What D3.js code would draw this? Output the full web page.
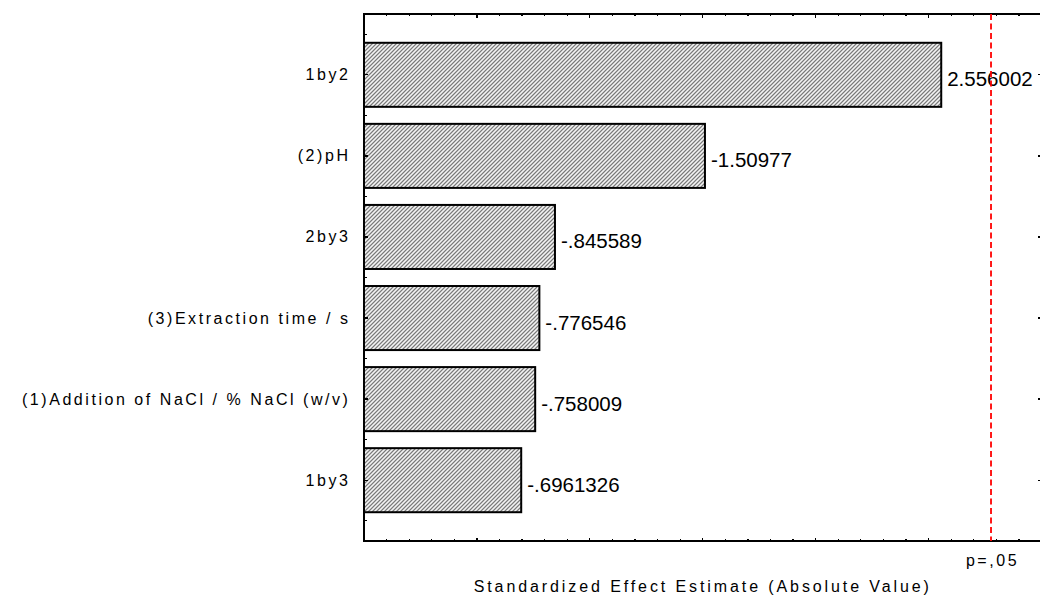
<!DOCTYPE html>
<html>
<head>
<meta charset="utf-8">
<script src="https://cdn.jsdelivr.net/npm/d3@7"></script>
<style>
  html, body { margin: 0; padding: 0; background: #fff; }
  svg { display: block; font-family: Arial, "Liberation Sans", sans-serif; }
</style>
</head>
<body>
<svg id="chart" width="1040" height="597"></svg>
<script>
// ---- data ----
const categories = ["1by2", "(2)pH", "2by3", "(3)Extraction time / s", "(1)Addition of NaCl / % NaCl (w/v)", "1by3"];
const effects = [2.556002, -1.50977, -0.845589, -0.776546, -0.758009, -0.6961326];
const effectLabels = ["2.556002", "-1.50977", "-.845589", "-.776546", "-.758009", "-.6961326"];
const pCritical = 2.776445;
const pLabel = "p=,05";
const xTitle = "Standardized Effect Estimate (Absolute Value)";
const xDomain = [0, 3];

// ---- layout ----
const svg = d3.select("#chart");
const pLeft = 364, pRight = 1041.5, pTop = 14, pBottom = 541;

const x = d3.scaleLinear().domain(xDomain).range([pLeft, pRight]);
const y = d3.scalePoint().domain(d3.range(categories.length)).range([pTop, pBottom]).padding(0.75);
const step = y.step();
const barH = step * 0.79;

// pattern fill
const defs = svg.append("defs");
const pat = defs.append("pattern").attr("id", "hatch").attr("patternUnits", "userSpaceOnUse")
  .attr("width", 4).attr("height", 4);
pat.append("rect").attr("width", 4).attr("height", 4).attr("fill", "#c4c4c4");
[[0,3],[1,2],[2,1],[3,0]].forEach(([px,py]) => pat.append("rect").attr("x", px).attr("y", py).attr("width",1).attr("height",1).attr("fill","#7a7a7a"));
[[0,1],[1,0],[2,3],[3,2]].forEach(([px,py]) => pat.append("rect").attr("x", px).attr("y", py).attr("width",1).attr("height",1).attr("fill","#f4f4f4"));

// bars
svg.append("g").selectAll("rect").data(effects).join("rect")
  .attr("x", x(0))
  .attr("y", (d, i) => y(i) - barH / 2)
  .attr("width", d => x(Math.abs(d)) - x(0))
  .attr("height", barH)
  .attr("fill", "url(#hatch)")
  .attr("stroke", "#000")
  .attr("stroke-width", 2);

// value labels
svg.append("g").selectAll("text").data(effects).join("text")
  .attr("x", d => x(Math.abs(d)) + 6)
  .attr("y", (d, i) => y(i) + 11.5)
  .attr("font-size", 20.5)
  .attr("fill", "#000")
  .text((d, i) => effectLabels[i]);

// axes (frame with inward ticks)
const axisG = svg.append("g").attr("stroke", "#000").attr("shape-rendering", "crispEdges");
const minorX = d3.range(0, 31).map(k => k / 10);
minorX.forEach(v => {
  const major = Math.abs(v * 2 - Math.round(v * 2)) < 1e-9;
  const len = major ? 3.5 : 2;
  axisG.append("line").attr("x1", x(v)).attr("x2", x(v)).attr("y1", pTop).attr("y2", pTop + len).attr("stroke-width", 1.3);
  axisG.append("line").attr("x1", x(v)).attr("x2", x(v)).attr("y1", pBottom).attr("y2", pBottom - len).attr("stroke-width", 1.3);
});
categories.forEach((c, i) => {
  axisG.append("line").attr("x1", pLeft).attr("x2", pLeft + 4).attr("y1", y(i)).attr("y2", y(i)).attr("stroke-width", 1.3);
  axisG.append("line").attr("x1", pRight).attr("x2", pRight - 4).attr("y1", y(i)).attr("y2", y(i)).attr("stroke-width", 1.3);
});
d3.range(categories.length + 1).forEach(k => {
  const yy = y(0) - step / 2 + k * step;
  axisG.append("line").attr("x1", pLeft).attr("x2", pLeft + 3).attr("y1", yy).attr("y2", yy).attr("stroke-width", 1.3);
});
axisG.append("rect").attr("x", pLeft).attr("y", pTop).attr("width", pRight - pLeft).attr("height", pBottom - pTop)
  .attr("fill", "none").attr("stroke-width", 1.3);

// critical line
svg.append("line")
  .attr("x1", x(pCritical)).attr("x2", x(pCritical))
  .attr("y1", pTop).attr("y2", pBottom)
  .attr("stroke", "#ff0000").attr("stroke-width", 1.8)
  .attr("stroke-dasharray", "6,3.5");

svg.append("text")
  .attr("x", x(pCritical) + 1.5).attr("y", 565.5)
  .attr("text-anchor", "middle")
  .attr("font-size", 16).attr("letter-spacing", 2.55)
  .text(pLabel);

// category labels
svg.append("g").selectAll("text").data(categories).join("text")
  .attr("x", 350.5)
  .attr("y", (d, i) => y(i) + 5.5)
  .attr("text-anchor", "end")
  .attr("font-size", 16).attr("letter-spacing", 2.55)
  .text(d => d);

// x title
svg.append("text")
  .attr("x", (pLeft + pRight) / 2)
  .attr("y", 592)
  .attr("text-anchor", "middle")
  .attr("font-size", 16).attr("letter-spacing", 2.9)
  .text(xTitle);
</script>
</body>
</html>
